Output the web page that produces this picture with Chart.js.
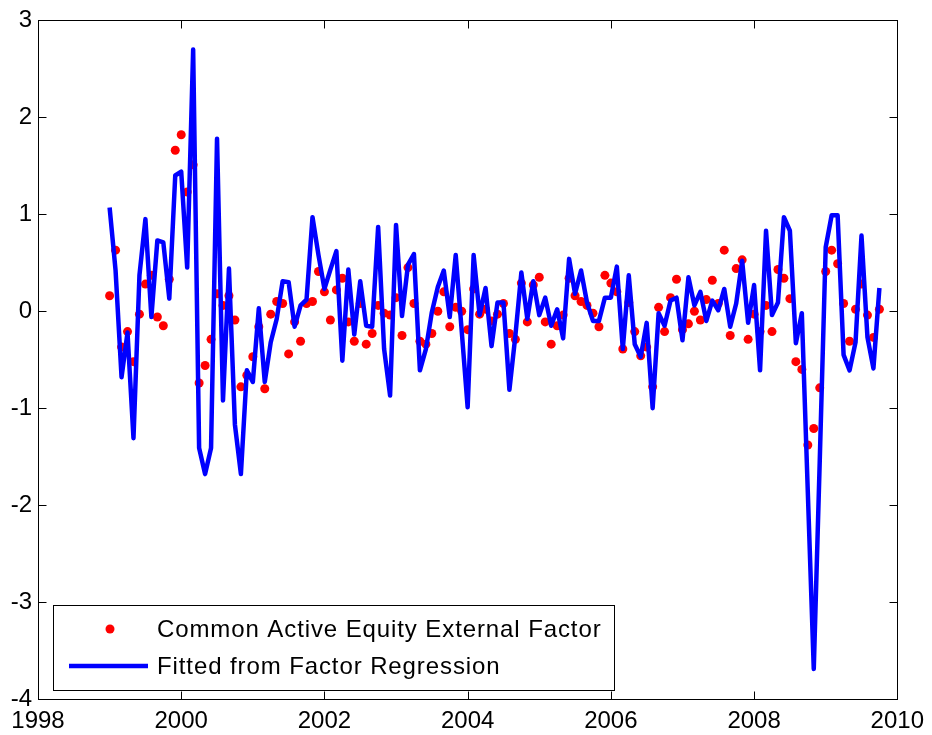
<!DOCTYPE html>
<html>
<head>
<meta charset="utf-8">
<title>Common Active Equity External Factor</title>
<script src="https://cdn.jsdelivr.net/npm/chart.js@4.4.1/dist/chart.umd.min.js"></script>
<style>
  html, body { margin: 0; padding: 0; background: #fff; }
  #wrap { width: 932px; height: 735px; }
</style>
</head>
<body>
<div id="wrap"><canvas id="factorChart" width="932" height="735"></canvas></div>
<script>
// monthly observations, Jan 1999 .. Oct 2009
var startYear = 1999;

var factor = [
   0.16,  0.63, -0.37, -0.21, -0.52, -0.03,  0.28,  0.37, -0.06, -0.15,
   0.33,  1.66,  1.82,  1.23,  1.51, -0.74, -0.56, -0.29,  0.18,  0.06,
   0.16, -0.09, -0.78, -0.66, -0.47, -0.16, -0.80, -0.03,  0.10,  0.08,
  -0.44, -0.11, -0.31,  0.08,  0.10,  0.41,  0.20, -0.09,  0.22,  0.34,
  -0.11, -0.31,  0.08, -0.34, -0.23,  0.06, -0.02, -0.04,  0.14, -0.25,
   0.45,  0.08, -0.31, -0.34, -0.23,  0.00,  0.20, -0.16,  0.04,  0.00,
  -0.19,  0.23, -0.03,  0.02, -0.10, -0.03,  0.08, -0.23, -0.29,  0.29,
  -0.11,  0.27,  0.35, -0.11, -0.34, -0.15, -0.04,  0.34,  0.16,  0.10,
   0.06, -0.02, -0.16,  0.37,  0.29,  0.20, -0.39,  0.09, -0.21, -0.46,
  -0.37, -0.78,  0.04, -0.21,  0.14,  0.33, -0.19, -0.13,  0.00, -0.09,
   0.12,  0.32,  0.08,  0.63, -0.25,  0.44,  0.53, -0.29, -0.03, -0.21,
   0.06, -0.21,  0.43,  0.34,  0.13, -0.52, -0.60, -1.38, -1.21, -0.79,
   0.41,  0.63,  0.49,  0.08, -0.31,  0.02,  0.28, -0.04, -0.27,  0.02
];

var fitted = [
   1.07,  0.42, -0.68, -0.22, -1.31,  0.37,  0.95, -0.06,  0.73,  0.71,
   0.13,  1.40,  1.44,  0.45,  2.70, -1.41, -1.68, -1.41,  1.78, -0.92,
   0.44, -1.17, -1.68, -0.61, -0.73,  0.03, -0.73, -0.32, -0.08,  0.31,
   0.30, -0.16,  0.06,  0.12,  0.97,  0.58,  0.23,  0.43,  0.62, -0.51,
   0.43, -0.24,  0.31, -0.15, -0.16,  0.87, -0.39, -0.87,  0.89, -0.05,
   0.48,  0.59, -0.61, -0.39, -0.01,  0.25,  0.42, -0.06,  0.58, -0.20,
  -0.99,  0.58, -0.04,  0.24, -0.36,  0.09,  0.09, -0.81, -0.25,  0.40,
  -0.08,  0.31, -0.04,  0.14, -0.15,  0.02, -0.28,  0.54,  0.18,  0.42,
   0.09, -0.10, -0.10,  0.14,  0.14,  0.46, -0.39,  0.37, -0.34, -0.47,
  -0.12, -1.00, -0.02, -0.15,  0.11,  0.14, -0.30,  0.35,  0.06,  0.20,
  -0.10,  0.11,  0.01,  0.23, -0.16,  0.08,  0.52, -0.12,  0.27, -0.61,
   0.83, -0.04,  0.09,  0.97,  0.83, -0.33, -0.02, -1.86, -3.69, -1.55,
   0.66,  0.99,  0.99, -0.45, -0.61, -0.32,  0.78, -0.27, -0.59,  0.24
];

var xTicks = [1998, 2000, 2002, 2004, 2006, 2008, 2010];
var yTicks = [-4, -3, -2, -1, 0, 1, 2, 3];

var labelFactor = 'Common Active Equity External Factor';
var labelFitted = 'Fitted from Factor Regression';

function _each(arr, fn) { for (var i = 0; i < arr.length; i++) fn(arr[i], i); }

// turn month index into fractional year
function toPoints(vals) {
    var pts = [];
    _each(vals, function (v, i) {
        pts.push({ x: startYear + i / 12, y: v });
    });
    return pts;
}

// box around the axes, inward ticks on all four sides, legend in the lower left
var axesBox = {
    id: 'axesBox',
    afterDraw: function (chart) {
        var c = chart.ctx;
        var a = chart.chartArea;
        var xs = chart.scales.x, ys = chart.scales.y;
        var L = Math.round(a.left) + 0.5, R = Math.round(a.right) + 0.5;
        var T = Math.round(a.top) + 0.5, B = Math.round(a.bottom) + 0.5;
        var tl = 8;

        c.save();
        c.strokeStyle = '#000';
        c.lineWidth = 1;
        c.strokeRect(L, T, R - L, B - T);

        c.beginPath();
        _each(xTicks, function (t) {
            var px = Math.round(xs.getPixelForValue(t)) + 0.5;
            c.moveTo(px, B); c.lineTo(px, B - tl);
            c.moveTo(px, T); c.lineTo(px, T + tl);
        });
        _each(yTicks, function (t) {
            var py = Math.round(ys.getPixelForValue(t)) + 0.5;
            c.moveTo(L, py); c.lineTo(L + tl, py);
            c.moveTo(R, py); c.lineTo(R - tl, py);
        });
        c.stroke();

        // legend
        var bx = 53.5, by = 605.5, bw = 561, bh = 85;
        c.fillStyle = '#fff';
        c.fillRect(bx, by, bw, bh);
        c.strokeRect(bx, by, bw, bh);

        var row1 = 629, row2 = 666;
        c.fillStyle = '#ff0000';
        c.beginPath();
        c.arc(110, row1, 4.5, 0, Math.PI * 2);
        c.fill();

        c.strokeStyle = '#0000ff';
        c.lineWidth = 4.5;
        c.beginPath();
        c.moveTo(69, row2); c.lineTo(148, row2);
        c.stroke();

        c.fillStyle = '#000';
        c.font = '24px "Liberation Sans", Arial, sans-serif';
        c.letterSpacing = '0.9px';
        c.textAlign = 'left';
        c.textBaseline = 'middle';
        c.fillText(chart.data.datasets[1].label, 157, row1 + 1);
        c.fillText(chart.data.datasets[0].label, 157, row2 + 1);
        c.restore();
    }
};

Chart.defaults.font.family = '"Liberation Sans", Arial, sans-serif';
Chart.defaults.font.size = 24;
Chart.defaults.color = '#000';

var ctx = document.getElementById('factorChart').getContext('2d');
var myChart = new Chart(ctx, {
    type: 'scatter',
    data: {
        datasets: [{
            type: 'line',
            label: labelFitted,
            data: toPoints(fitted),
            borderColor: '#0000ff',
            borderWidth: 4.5,
            borderJoinStyle: 'round',
            pointRadius: 0,
            tension: 0,
            fill: false,
            order: 0
        }, {
            label: labelFactor,
            data: toPoints(factor),
            backgroundColor: '#ff0000',
            borderWidth: 0,
            pointRadius: 4.5,
            order: 1
        }]
    },
    options: {
        responsive: false,
        animation: false,
        layout: { autoPadding: false, padding: { top: 17, right: 33, left: 0, bottom: 0 } },
        plugins: {
            legend: { display: false },
            tooltip: { enabled: false }
        },
        scales: {
            x: {
                type: 'linear',
                min: 1998,
                max: 2010,
                afterFit: function (s) { s.height = 36; },
                afterBuildTicks: function (s) { s.ticks = xTicks.map(function (v) { return { value: v }; }); },
                ticks: { padding: 8, maxRotation: 0, callback: function (v) { return String(v); } },
                grid: { display: false, drawTicks: false },
                border: { display: false }
            },
            y: {
                min: -4,
                max: 3,
                afterFit: function (s) { s.width = 38; },
                afterBuildTicks: function (s) { s.ticks = yTicks.map(function (v) { return { value: v }; }); },
                ticks: { padding: 6, callback: function (v) { return String(v); } },
                grid: { display: false, drawTicks: false },
                border: { display: false }
            }
        }
    },
    plugins: [axesBox]
});
</script>
</body>
</html>
